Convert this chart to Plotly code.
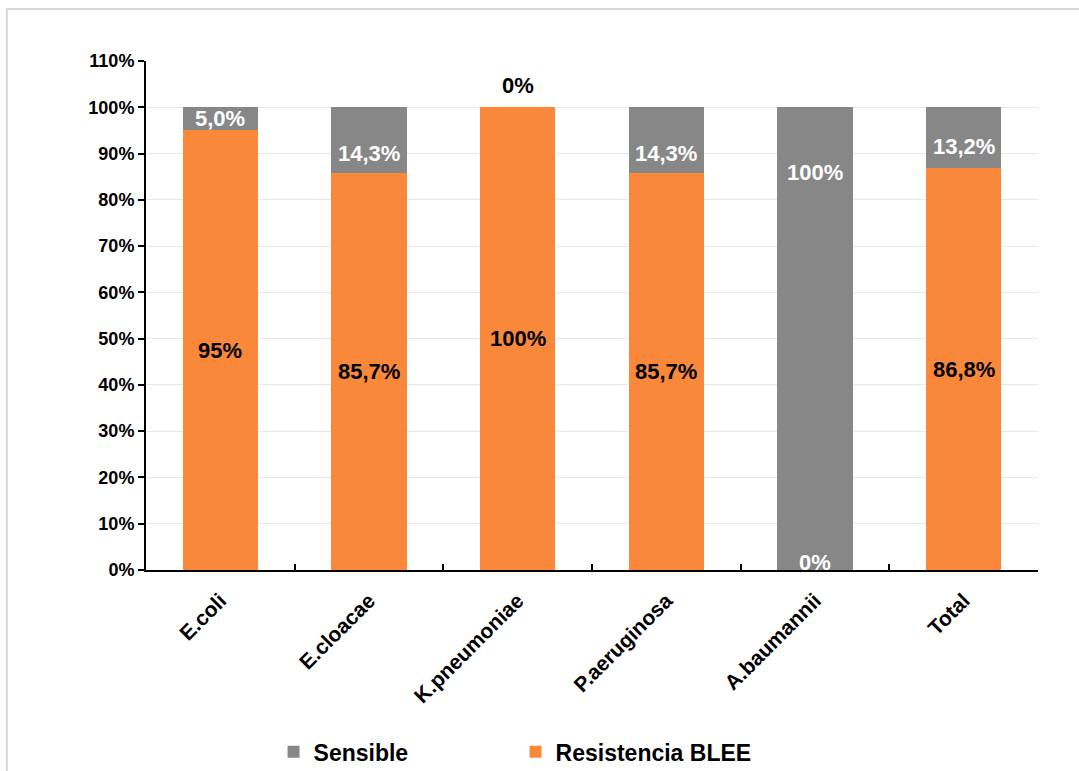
import plotly.graph_objects as go

categories = ["E.coli", "E.cloacae", "K.pneumoniae", "P.aeruginosa", "A.baumannii", "Total"]
resistencia = [95.0, 85.7, 100.0, 85.7, 0.0, 86.8]
sensible = [5.0, 14.3, 0.0, 14.3, 100.0, 13.2]
resist_labels = ["95%", "85,7%", "100%", "85,7%", "0%", "86,8%"]
sens_labels = ["5,0%", "14,3%", "0%", "14,3%", "100%", "13,2%"]
# label vertical positions (in % units) for the Sensible series, as placed in the original
sens_label_pos = [97.5, 90.1, 104.8, 90.1, 86.0, 91.6]

GRAY = "#878787"
ORANGE = "#F9883B"
FONT = "Liberation Sans"

fig = go.Figure()
fig.add_trace(go.Bar(
    x=categories, y=[v / 100 for v in resistencia], name="Resistencia BLEE",
    marker=dict(color=ORANGE, line=dict(width=0)), legendrank=2,
))
fig.add_trace(go.Bar(
    x=categories, y=[v / 100 for v in sensible], name="Sensible",
    marker=dict(color=GRAY, line=dict(width=0)), legendrank=1,
))

annotations = []
for i, c in enumerate(categories):
    r = resistencia[i]
    if r > 0:
        annotations.append(dict(x=c, y=r / 200, text=resist_labels[i], showarrow=False,
                                font=dict(family=FONT, size=22, color="black", weight="bold"),
                                yanchor="middle"))
    else:
        annotations.append(dict(x=c, y=0.0, text=resist_labels[i], showarrow=False,
                                font=dict(family=FONT, size=22, color="white", weight="bold"),
                                yanchor="middle", yshift=8))
    s = sensible[i]
    col = "white" if s > 0 else "black"
    annotations.append(dict(x=c, y=sens_label_pos[i] / 100, text=sens_labels[i], showarrow=False,
                            font=dict(family=FONT, size=22, color=col, weight="bold"),
                            yanchor="middle"))

fig.update_layout(
    barmode="stack",
    bargap=0.495,
    width=1079, height=771,
    margin=dict(l=146, r=41, t=61, b=201, autoexpand=False),
    paper_bgcolor="white", plot_bgcolor="white",
    font=dict(family=FONT, color="black"),
    showlegend=True,
    legend=dict(orientation="h", x=0.143, xanchor="left", yref="container", y=0.025,
                yanchor="middle",
                font=dict(family=FONT, size=23, color="black", weight="bold"),
                entrywidth=197, entrywidthmode="pixels", itemwidth=30,
                traceorder="normal"),
    annotations=annotations,
    shapes=[dict(type="rect", xref="paper", yref="paper",
                 x0=-0.156, x1=1.2, y0=-0.5, y1=1.102,
                 line=dict(color="#d9d9d9", width=2), fillcolor="rgba(0,0,0,0)", layer="below")],
)
fig.update_yaxes(
    range=[0, 1.1], dtick=0.1, tickformat=".0%", automargin=False,
    showline=True, linecolor="black", linewidth=2,
    ticks="outside", ticklen=6, tickcolor="black", tickwidth=2,
    showgrid=True, gridcolor="#e8e8e8", gridwidth=1,
    tickfont=dict(family=FONT, size=18, color="black", weight="bold"),
    zeroline=False,
)
fig.update_xaxes(
    automargin=False,
    showline=True, linecolor="black", linewidth=2,
    ticks="inside", ticklen=6, tickcolor="black", tickwidth=2,
    tickson="boundaries", tickangle=-45, ticklabelstandoff=8,
    tickfont=dict(family=FONT, size=21, color="black", weight="bold"),
)
fig.update_traces(hoverinfo="skip")
fig.write_html("out.html")
